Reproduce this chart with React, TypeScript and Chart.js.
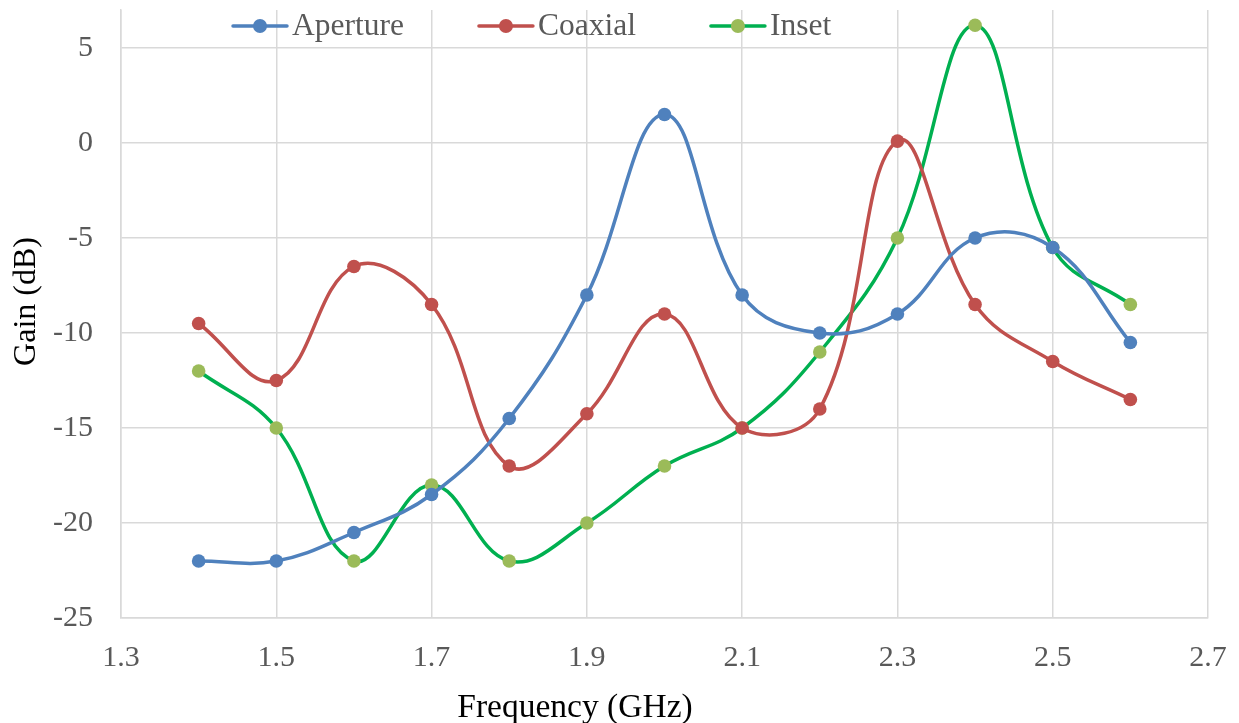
import React, { useEffect, useRef } from "react";
import { Chart, registerables } from "chart.js";

Chart.register(...registerables);

const FREQUENCIES = [1.4, 1.5, 1.6, 1.7, 1.8, 1.9, 2.0, 2.1, 2.2, 2.3, 2.4, 2.5, 2.6];
const APERTURE = [-22, -22, -20.5, -18.5, -14.5, -8, 1.5, -8, -10, -9, -5, -5.5, -10.5];
const COAXIAL = [-9.5, -12.5, -6.5, -8.5, -17, -14.25, -9, -15, -14, 0.1, -8.5, -11.5, -13.5];
const INSET = [-12, -15, -22, -18, -22, -20, -17, -15, -11, -5, 6.2, -5.5, -8.5];
const SERIES_NAMES = ["Aperture", "Coaxial", "Inset"];
const X_TICKS = [1.3, 1.5, 1.7, 1.9, 2.1, 2.3, 2.5, 2.7];
const Y_TICKS = [-25, -20, -15, -10, -5, 0, 5];
const X_TITLE = "Frequency (GHz)";
const Y_TITLE = "Gain (dB)";

const FONT = "'Liberation Serif', 'Times New Roman', serif";
const GRID = "#D9D9D9";
const TICK_COLOR = "#595959";

const legendPlugin = {
  id: "excelLegend",
  afterDraw(chart: any) {
    const ctx = chart.ctx;
    ctx.save();
    ctx.font = `31.5px ${FONT}`;
    ctx.textBaseline = "middle";
    ctx.textAlign = "left";
    let x = 233;
    const y = 26;
    chart.data.datasets.forEach((ds: any) => {
      ctx.strokeStyle = ds.borderColor;
      ctx.lineWidth = 3.5;
      ctx.lineCap = "round";
      ctx.beginPath();
      ctx.moveTo(x, y);
      ctx.lineTo(x + 54, y);
      ctx.stroke();
      ctx.fillStyle = ds.pointBackgroundColor;
      ctx.beginPath();
      ctx.arc(x + 27, y, 7, 0, Math.PI * 2);
      ctx.fill();
      ctx.fillStyle = TICK_COLOR;
      ctx.fillText(ds.label, x + 59, y + 1);
      const w = ctx.measureText(ds.label).width;
      x = x + 59 + w + 75;
    });
    ctx.restore();
  },
};

const axisTitlePlugin = {
  id: "axisTitles",
  afterDraw(chart: any) {
    const ctx = chart.ctx;
    ctx.save();
    ctx.fillStyle = "#000000";
    ctx.textAlign = "center";
    ctx.font = `33.5px ${FONT}`;
    ctx.textBaseline = "alphabetic";
    ctx.fillText(X_TITLE, 575, 717);
    ctx.translate(27, 301.5);
    ctx.rotate(-Math.PI / 2);
    ctx.font = `32px ${FONT}`;
    ctx.textBaseline = "middle";
    ctx.fillText(Y_TITLE, 0, 0);
    ctx.restore();
  },
};

function makeDataset(label: string, values: number[], line: string, point: string) {
  return {
    label,
    data: FREQUENCIES.map((f, i) => ({ x: f, y: values[i] })),
    borderColor: line,
    backgroundColor: point,
    pointBackgroundColor: point,
    pointBorderColor: point,
    pointBorderWidth: 0,
    pointRadius: 6.8,
    borderWidth: 3.5,
    tension: 0.4,
    fill: false,
  };
}

export default function App() {
  const ref = useRef<HTMLCanvasElement>(null);
  useEffect(() => {
    if (!ref.current) return;
    const chart = new Chart(ref.current, {
      type: "line",
      data: {
        datasets: [
          makeDataset(SERIES_NAMES[0], APERTURE, "#4F81BD", "#4F81BD"),
          makeDataset(SERIES_NAMES[1], COAXIAL, "#C0504D", "#C0504D"),
          makeDataset(SERIES_NAMES[2], INSET, "#00B050", "#9BBB59"),
        ],
      },
      options: {
        animation: false,
        responsive: false,
        maintainAspectRatio: false,
        layout: { padding: { top: 10, right: 31, bottom: 0, left: 0 } },
        plugins: { legend: { display: false }, tooltip: { enabled: false } },
        scales: {
          x: {
            type: "linear",
            min: 1.3,
            max: 2.7,
            afterBuildTicks: (s: any) => {
              s.ticks = X_TICKS.map((v) => ({ value: v }));
            },
            afterFit: (s: any) => {
              s.height = 105;
              s.paddingLeft = 0;
              s.paddingRight = 0;
            },
            grid: { color: GRID, lineWidth: 1.5, drawTicks: false },
            border: { color: GRID, width: 1.5 },
            ticks: {
              color: TICK_COLOR,
              font: { family: FONT, size: 30 },
              padding: 22,
              autoSkip: false,
              maxRotation: 0,
              callback: (v: any) => Number(v).toFixed(1),
            },
            title: { display: false, text: X_TITLE },
          },
          y: {
            type: "linear",
            min: -25,
            max: 7,
            afterBuildTicks: (s: any) => {
              s.ticks = Y_TICKS.map((v) => ({ value: v }));
            },
            afterFit: (s: any) => {
              s.width = 121;
              s.paddingTop = 0;
              s.paddingBottom = 0;
            },
            grid: { color: GRID, lineWidth: 1.5, drawTicks: false },
            border: { color: GRID, width: 1.5 },
            ticks: {
              color: TICK_COLOR,
              font: { family: FONT, size: 30 },
              padding: 28,
              callback: (v: any) => String(v),
            },
            title: { display: false, text: Y_TITLE },
          },
        },
      },
      plugins: [legendPlugin, axisTitlePlugin],
    });
    return () => chart.destroy();
  }, []);
  return (
    <div style={{ position: "fixed", left: 0, top: 0, width: 1239, height: 723, background: "#fff" }}>
      <canvas ref={ref} width={1239} height={723} style={{ width: 1239, height: 723 }} />
    </div>
  );
}
